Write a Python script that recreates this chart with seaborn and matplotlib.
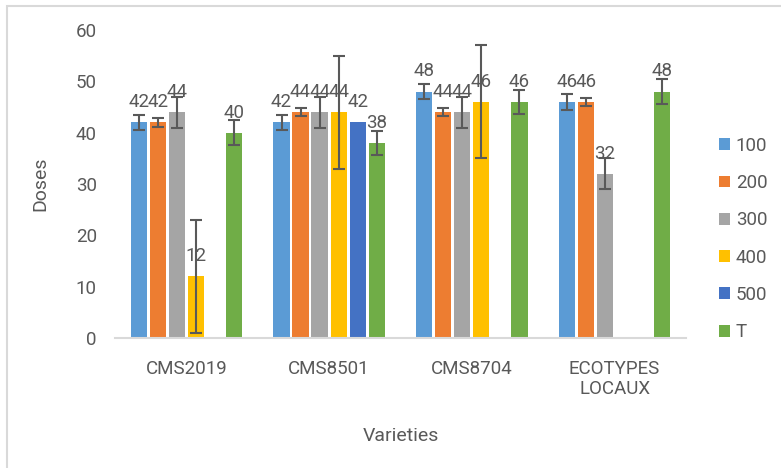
import numpy as np
import pandas as pd
import matplotlib
matplotlib.use('Agg')
import matplotlib.pyplot as plt
import seaborn as sns
from matplotlib.patches import Rectangle

# chart data
varieties = ['CMS2019', 'CMS8501', 'CMS8704', 'ECOTYPES\nLOCAUX']
doses = ['100', '200', '300', '400', '500', 'T']

dose_100 = [42, 42, 48, 46]
dose_200 = [42, 44, 44, 46]
dose_300 = [44, 44, 44, 32]
dose_400 = [12, 44, 46, np.nan]
dose_500 = [np.nan, 42, np.nan, np.nan]
dose_T = [40, 38, 46, 48]

# error bar half-lengths (same order)
err_100 = [1.5, 1.5, 1.5, 1.5]
err_200 = [0.8, 0.8, 0.8, 0.8]
err_300 = [3, 3, 3, 3]
err_400 = [11, 11, 11, 11]
err_500 = [0, 0, 0, 0]
err_T = [2.4, 2.4, 2.4, 2.4]

colors = ['#5B9BD5', '#ED7D31', '#A5A5A5', '#FFC000', '#4472C4', '#70AD47']

values = [dose_100, dose_200, dose_300, dose_400, dose_500, dose_T]
errors = [err_100, err_200, err_300, err_400, err_500, err_T]

rows = []
for d, vals in zip(doses, values):
    for v, val in zip(varieties, vals):
        if not np.isnan(val):
            rows.append({'variety': v, 'dose': d, 'value': val})
df = pd.DataFrame(rows)

sns.set_style('white')
plt.rcParams['font.family'] = ['Roboto', 'DejaVu Sans']
txt_color = '#595959'
fs = 13.5

fig = plt.figure(figsize=(7.81, 4.68), dpi=100)
ax = fig.add_axes([0.1472, 0.2778, 0.7311, 0.6581])

sns.barplot(data=df, x='variety', y='value', hue='dose', order=varieties,
            hue_order=doses, palette=colors, errorbar=None, gap=0.15,
            saturation=1, linewidth=0, ax=ax)

# error bars + value labels
bar_conts = list(ax.containers)
for i, cont in enumerate(bar_conts):
    for p in cont.patches:
        h = p.get_height()
        if np.isnan(h):
            continue
        xc = p.get_x() + p.get_width() / 2
        j = int(round(xc))
        e = errors[i][j]
        if e > 0:
            ax.errorbar(xc, h, yerr=e, fmt='none', ecolor='#595959',
                        elinewidth=1.5, capsize=4, capthick=1.5, zorder=3)
        ax.annotate(f'{h:g}', (xc, h), xytext=(0, 8), textcoords='offset points',
                    ha='center', va='bottom', fontsize=fs, color=txt_color,
                    zorder=4)

ax.set_ylim(0, 60)
ax.set_xlim(-0.5, 3.5)
ax.set_yticks(range(0, 61, 10))
for s in ['top', 'right', 'left']:
    ax.spines[s].set_visible(False)
ax.spines['bottom'].set_color('#D9D9D9')
ax.spines['bottom'].set_linewidth(1.5)
ax.tick_params(axis='y', length=0, pad=13, labelsize=fs, labelcolor=txt_color)
ax.tick_params(axis='x', length=0, pad=16, labelsize=fs, labelcolor=txt_color)
for t in ax.get_xticklabels():
    t.set_linespacing(1.15)

ax.set_xlabel('Varieties', fontsize=14, color=txt_color)
ax.set_ylabel('Doses', fontsize=14, color=txt_color)
ax.xaxis.set_label_coords(0.5, -0.29)
ax.yaxis.set_label_coords(-0.114, 0.5)

handles, labels = ax.get_legend_handles_labels()
ax.legend(handles, labels, loc='center left', bbox_to_anchor=(719 / 781, 1 - 239 / 468),
          bbox_transform=fig.transFigure, frameon=False, fontsize=fs,
          handlelength=0.59, handleheight=0.59, handletextpad=0.3,
          labelspacing=1.03, borderpad=0, borderaxespad=0, labelcolor=txt_color)

# chart frame
fig.patches.append(Rectangle((7 / 781, -0.05), 1.2, 1 - 6 / 468 + 0.05,
                             transform=fig.transFigure, fill=False,
                             edgecolor='#D9D9D9', linewidth=1.5))

fig.savefig('out.png', dpi=100)
